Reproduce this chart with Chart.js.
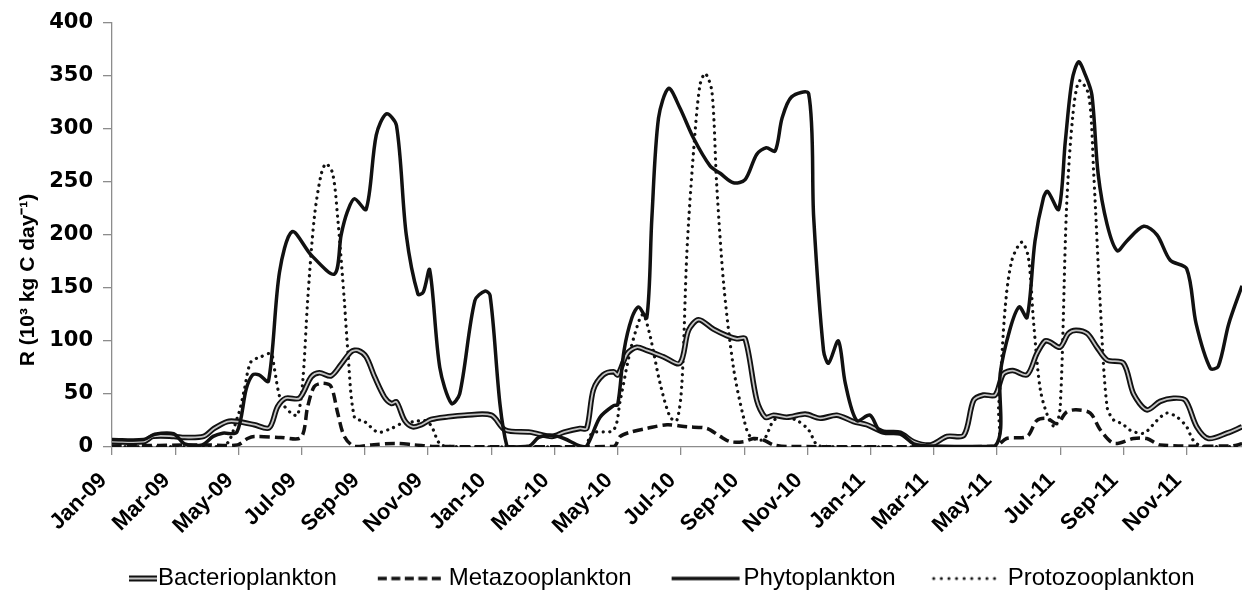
<!DOCTYPE html>
<html>
<head>
<meta charset="utf-8">
<script src="https://cdn.jsdelivr.net/npm/chart.js@4.4.1/dist/chart.umd.min.js"></script>
<style>
  body { margin: 0; background: #fff; }
  canvas { display: block; }
</style>
</head>
<body>
<canvas id="chart" width="1242" height="594"></canvas>
<script>
const tickLabels = ["Jan-09", "Mar-09", "May-09", "Jul-09", "Sep-09", "Nov-09",
  "Jan-10", "Mar-10", "May-10", "Jul-10", "Sep-10", "Nov-10",
  "Jan-11", "Mar-11", "May-11", "Jul-11", "Sep-11", "Nov-11"];
const seriesNames = ["Bacterioplankton", "Metazooplankton", "Phytoplankton", "Protozooplankton"];
const yTitle = "R (10\u00b3 kg C day\u207b\u00b9)";

// x = months since 1 Jan 2009
const bacterioMonths = [0, 1.0, 1.3, 1.96, 2.3, 2.9, 3.23, 3.65, 3.97, 4.5, 4.97, 5.24, 5.5, 5.93, 6.3, 6.56, 6.93, 7.25, 7.57, 7.78, 8.04, 8.31, 8.62, 8.84, 9.0, 9.26, 9.52, 9.79, 10.1, 10.63, 11.16, 12.0, 12.44, 13.23, 13.92, 14.3, 14.81, 15.02, 15.23, 15.54, 15.87, 16.0, 16.3, 16.6, 16.92, 17.45, 17.97, 18.24, 18.56, 19.03, 19.45, 19.77, 20.03, 20.4, 20.67, 20.93, 21.35, 21.93, 22.41, 22.93, 23.46, 23.88, 24.41, 24.94, 25.36, 25.9, 26.42, 26.95, 27.26, 27.57, 27.94, 28.2, 28.5, 28.95, 29.26, 29.52, 29.68, 29.99, 30.26, 30.5, 30.85, 31.16, 31.48, 32.0, 32.32, 32.74, 33.16, 33.58, 33.96, 34.32, 34.69, 35.27, 35.75];
const bacterioValues = [5, 5, 10, 10, 9, 10, 17.5, 24, 24, 21, 18, 38, 46, 46, 66, 70, 67, 78, 90, 91, 85, 66, 47, 41, 42.5, 25, 19, 21, 26, 28.5, 30, 30, 16, 14, 10, 14, 17.5, 17.5, 54, 68, 71, 68, 88, 94, 91, 85, 79, 110, 120, 111, 105, 102, 102, 44, 28, 30, 28, 31, 27, 30, 24, 21, 14, 13, 5, 2, 10, 11, 44, 49, 49, 69, 72, 68, 88, 100, 99, 94, 107, 110, 107, 94, 82, 79, 50, 35, 43, 46, 44, 19, 8, 13, 19];

const metazooMonths = [0, 3.0, 3.97, 4.29, 4.5, 5.34, 5.98, 6.19, 6.4, 6.67, 6.93, 7.14, 7.35, 7.67, 8.2, 8.94, 9.58, 10.2, 15.87, 16.08, 16.4, 16.92, 17.56, 18.19, 18.82, 19.24, 19.56, 19.98, 20.3, 20.61, 20.93, 21.35, 27.94, 28.3, 28.95, 29.26, 29.58, 29.9, 30.2, 30.5, 30.95, 31.27, 31.7, 32.32, 32.74, 33.16, 35.4, 35.75];
const metazooValues = [1, 2, 2, 8, 10, 9, 9, 38, 57, 60, 57, 32, 10, 0.5, 2, 3.4, 2, 0.5, 0.5, 10, 14, 17.5, 21, 19, 17.5, 10, 5, 5, 8, 6.6, 2, 0.5, 0.5, 8, 10, 25, 27, 22, 33, 35, 32, 16, 3.4, 8, 8, 2, 1, 3];

const phytoMonths = [0, 1.0, 1.35, 1.95, 2.3, 2.85, 3.2, 3.5, 3.95, 4.25, 4.45, 4.65, 4.95, 5.3, 5.7, 6.3, 7.04, 7.25, 7.45, 7.67, 8.04, 8.36, 8.68, 9.0, 9.31, 9.68, 9.85, 10.05, 10.37, 10.74, 11.0, 11.48, 11.8, 11.96, 12.5, 13.2, 13.5, 13.9, 14.3, 14.8, 15.02, 15.44, 15.87, 16.0, 16.2, 16.45, 16.66, 16.92, 17.08, 17.29, 17.61, 17.96, 18.4, 18.92, 19.24, 19.66, 20.03, 20.4, 20.7, 20.98, 21.2, 21.5, 22.04, 22.2, 22.51, 22.67, 22.98, 23.2, 23.56, 23.98, 24.3, 24.94, 25.36, 25.9, 27.94, 28.1, 28.4, 28.7, 28.95, 29.2, 29.47, 29.6, 29.95, 30.16, 30.37, 30.58, 30.79, 31.0, 31.2, 31.48, 31.8, 32.1, 32.64, 33.06, 33.48, 34.0, 34.3, 34.75, 35.0, 35.33, 35.75];
const phytoValues = [7, 7, 12, 12.5, 3, 2, 10, 13, 14, 55, 68, 68, 62, 165, 203, 181, 163, 200, 222, 234, 224, 294, 314, 303, 200, 144, 146, 167, 75, 41, 50, 138, 147, 143, 0, 1, 9, 11, 8, 1, 1, 28, 39, 40, 91, 122, 132, 122, 216, 310, 338, 320, 291, 265, 258, 249, 252, 276, 282, 279, 310, 330, 333, 216, 91, 79, 100, 60, 25, 30, 15, 13, 3, 1, 1, 69, 110, 132, 122, 194, 235, 241, 224, 288, 345, 363, 351, 332, 257, 210, 185, 194, 208, 200, 176, 168, 116, 74, 76, 116, 152];

const protozooMonths = [0, 3.5, 3.97, 4.18, 4.39, 4.71, 5.03, 5.13, 5.34, 5.66, 5.87, 6.03, 6.19, 6.4, 6.61, 6.77, 6.98, 7.14, 7.35, 7.46, 7.67, 7.99, 8.41, 8.84, 9.15, 9.58, 9.89, 10.1, 10.37, 10.7, 15.0, 15.1, 15.3, 15.87, 16.08, 16.4, 16.71, 16.82, 17.03, 17.34, 17.66, 17.87, 18.03, 18.19, 18.4, 18.6, 18.77, 18.98, 19.13, 19.35, 19.66, 19.98, 20.19, 20.61, 20.93, 21.24, 21.67, 22.04, 22.3, 22.6, 27.9, 28.05, 28.26, 28.47, 28.78, 28.99, 29.16, 29.37, 29.63, 29.84, 30.0, 30.2, 30.4, 30.6, 30.9, 31.06, 31.27, 31.48, 31.7, 31.96, 32.2, 32.64, 33.06, 33.37, 33.7, 34.0, 34.2, 34.5, 35.75];
const protozooValues = [0.5, 0.5, 28, 53, 80, 85, 88, 75, 44, 32, 30, 60, 138, 216, 256, 267, 258, 216, 138, 91, 28, 24, 14, 17.5, 22, 24, 25, 20, 3, 0.5, 0.5, 10, 14, 16, 44, 91, 122, 125, 104, 60, 28, 25, 60, 185, 279, 341, 352, 335, 248, 154, 75, 28, 10, 7, 25, 28, 25, 16, 2, 0.5, 0.5, 38, 132, 176, 193, 179, 116, 54, 27, 19, 38, 226, 313, 345, 332, 257, 132, 38, 25, 22, 16, 13, 25, 32, 28, 19, 6.6, 0.5, 0.5];

const pts = (xs, ys) => xs.map((x, i) => ({ x: x, y: ys[i] }));

const FONT = "'Liberation Sans', Arial, sans-serif";
const TICK_FONT = "'DejaVu Sans', 'Liberation Sans', sans-serif";
const AXIS_GREY = "#8c8c8c";

// little line samples for the legend
function sample(draw) {
  const c = document.createElement("canvas");
  c.width = 84;
  c.height = 14;
  const g = c.getContext("2d");
  g.translate(0, 7);
  draw(g);
  return c;
}
function seg(g, x0, x1, color, width, dash, cap) {
  g.beginPath();
  g.setLineDash(dash || []);
  g.lineCap = cap || "butt";
  g.strokeStyle = color;
  g.lineWidth = width;
  g.moveTo(x0, 0);
  g.lineTo(x1, 0);
  g.stroke();
}
const legendSamples = [
  sample(g => { seg(g, 55, 83, "#111", 6); seg(g, 55, 83, "#c4c4c4", 2); }),
  sample(g => seg(g, 13, 77, "#111", 3.5, [9, 4.5])),
  sample(g => seg(g, 12, 80, "#111", 3.5)),
  sample(g => seg(g, 10, 73, "#111", 3, [0.1, 7.5], "round")),
];

const yTitlePlugin = {
  id: "yTitle",
  afterDraw(chart) {
    const ctx = chart.ctx;
    ctx.save();
    ctx.translate(34, 280);
    ctx.rotate(-Math.PI / 2);
    ctx.font = "bold 21px " + FONT;
    ctx.fillStyle = "#000";
    ctx.textAlign = "center";
    ctx.textBaseline = "alphabetic";
    ctx.fillText(yTitle, 0, 0);
    ctx.restore();
  }
};

// move the legend row and let the rotated month labels hang below the axis box
const legendPlace = {
  id: "legendPlace",
  afterLayout(chart) {
    chart.legend.left = 46;
    chart.legend.right = 1400;
    chart.legend.top = 526.5;
    chart.scales.x.bottom = 560;
  }
};

new Chart(document.getElementById("chart"), {
  type: "line",
  plugins: [yTitlePlugin, legendPlace],
  data: {
    datasets: [
      {
        label: seriesNames[2],
        data: pts(phytoMonths, phytoValues),
        borderColor: "#111",
        borderWidth: 3.5,
        order: 1
      },
      {
        label: seriesNames[0] + " inner",
        data: pts(bacterioMonths, bacterioValues),
        borderColor: "#c4c4c4",
        borderWidth: 1.8,
        order: 2
      },
      {
        label: seriesNames[0],
        data: pts(bacterioMonths, bacterioValues),
        borderColor: "#111",
        borderWidth: 5.5,
        order: 3
      },
      {
        label: seriesNames[1],
        data: pts(metazooMonths, metazooValues),
        borderColor: "#111",
        borderWidth: 3.5,
        borderDash: [10, 5],
        order: 4
      },
      {
        label: seriesNames[3],
        data: pts(protozooMonths, protozooValues),
        borderColor: "#111",
        borderWidth: 3.2,
        borderDash: [0.1, 6.4],
        borderCapStyle: "round",
        order: 5
      }
    ]
  },
  options: {
    responsive: false,
    animation: false,
    layout: { padding: { top: 21, right: 0, bottom: 0, left: 0 } },
    elements: {
      point: { radius: 0 },
      line: { tension: 0.3, fill: false, borderJoinStyle: "round" }
    },
    scales: {
      x: {
        type: "linear",
        min: 0,
        max: 35.75,
        ticks: {
          stepSize: 2,
          includeBounds: false,
          autoSkip: false,
          minRotation: 45,
          maxRotation: 45,
          padding: 4,
          color: "#000",
          font: { family: FONT, size: 22, weight: "bold" },
          // trailing spaces nudge the rotated label down-left of its tick
          callback: v => tickLabels[Math.round(v / 2)] + "  "
        },
        grid: { drawOnChartArea: false, drawTicks: true, tickLength: 8, color: AXIS_GREY, lineWidth: 1.3 },
        border: { color: AXIS_GREY, width: 1.3 },
        afterFit: s => { s.height = 73; }
      },
      y: {
        min: 0,
        max: 400,
        ticks: {
          stepSize: 50,
          padding: 10,
          color: "#000",
          font: { family: TICK_FONT, size: 21, weight: "bold" }
        },
        grid: { drawOnChartArea: false, drawTicks: true, tickLength: 9, color: AXIS_GREY, lineWidth: 1.3 },
        border: { color: AXIS_GREY, width: 1.3 },
        afterFit: s => { s.width = 112; }
      }
    },
    plugins: {
      tooltip: { enabled: false },
      legend: {
        position: "bottom",
        align: "start",
        labels: {
          usePointStyle: true,
          pointStyleWidth: 60,
          padding: 40,
          color: "#000",
          font: { family: FONT, size: 24 },
          generateLabels: () => legendSamples.map((img, i) => ({
            text: seriesNames[i],
            pointStyle: img,
            fillStyle: "#000",
            strokeStyle: "#000",
            lineWidth: 0,
            hidden: false,
            datasetIndex: i
          }))
        }
      }
    }
  }
});
</script>
</body>
</html>
